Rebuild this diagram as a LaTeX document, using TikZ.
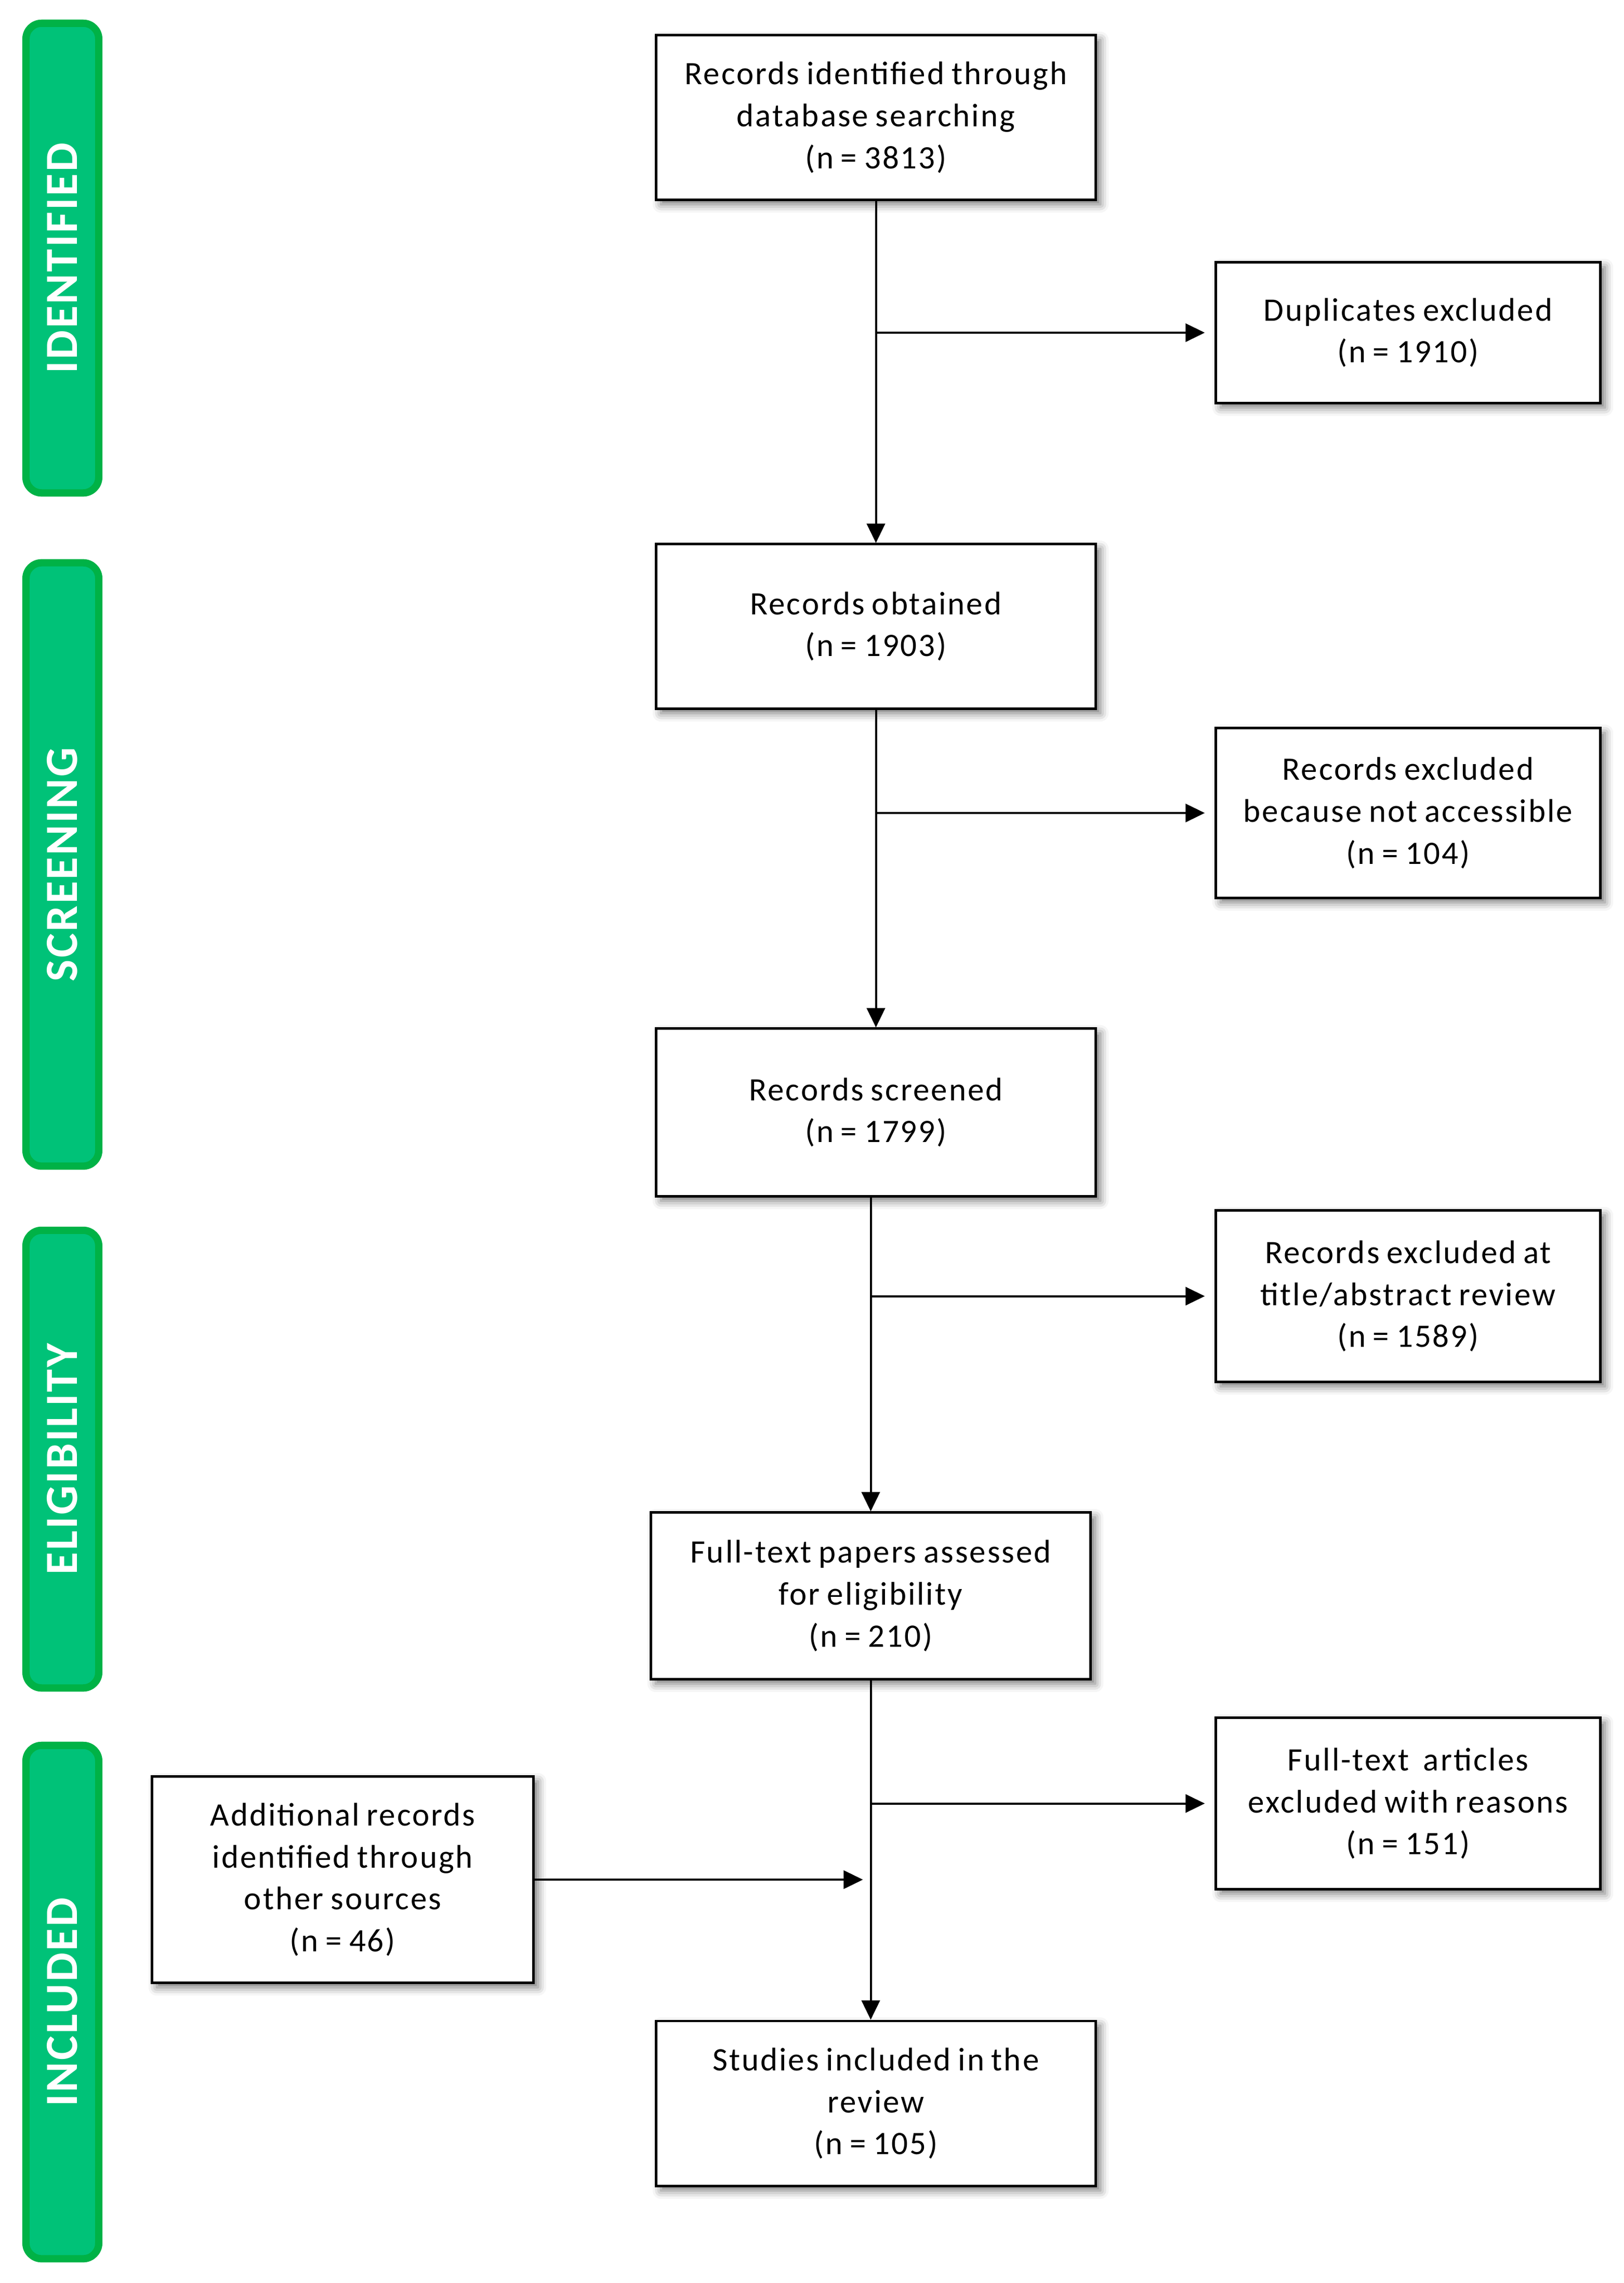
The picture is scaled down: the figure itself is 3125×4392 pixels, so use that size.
\documentclass[tikz,border=0pt]{standalone}
\usepackage{fontspec}
\setmainfont{Carlito}[LetterSpace=4.8,WordSpace=0.8]
\newfontfamily\barfont{Carlito}[LetterSpace=4]
\usetikzlibrary{arrows.meta,shadows.blur}
\definecolor{barfill}{RGB}{0,194,120}
\definecolor{barline}{RGB}{0,178,70}
\begin{document}
\begin{tikzpicture}[x=0.01cm,y=-0.01cm,
  box/.style={draw=black, line width=1.4pt, fill=white, align=center, inner sep=0pt,
    font=\fontsize{17.9pt}{23pt}\selectfont,
    blur shadow={shadow xshift=0.09cm, shadow yshift=-0.09cm, shadow blur radius=0.16cm, shadow opacity=55}},
  mainbox/.style={box, minimum width=8.45cm},
  exbox/.style={box, minimum width=7.39cm},
  phase/.style={draw=barline, fill=barfill, line width=4pt, rounded corners=0.3cm, rotate=90,
    text=white, inner sep=0pt, minimum height=1.40cm,
    font=\barfont\fontsize{25.2pt}{30pt}\bfseries\selectfont},
  arr/.style={line width=1.13pt, -{Triangle[length=0.37cm,width=0.35cm]}},
  plain/.style={line width=1.13pt}]
\useasboundingbox (0,0) rectangle (3125,4392);

% phase bars
\node[phase, minimum width=9.03cm]  (pid) at (120,496.5)  {IDENTIFIED};
\node[phase, minimum width=11.60cm] (psc) at (120,1663)   {SCREENING};
\node[phase, minimum width=8.80cm]  (pel) at (120,2807)   {ELIGIBILITY};
\node[phase, minimum width=9.87cm]  (pin) at (120,3851.5) {INCLUDED};

% boxes
\node[mainbox, minimum height=3.16cm] (b1) at (1685.5,226) {Records identified through\\database searching\\(n = 3813)};
\node[exbox, minimum height=2.70cm] (dup) at (2709.5,640) {Duplicates excluded\\(n = 1910)};
\node[mainbox, minimum height=3.16cm] (b2) at (1685.5,1205) {Records obtained\\(n = 1903)};
\node[exbox, minimum height=3.26cm] (ex2) at (2709.5,1564) {Records excluded\\because not accessible\\(n = 104)};
\node[mainbox, minimum height=3.22cm] (b3) at (1685.5,2140) {Records screened\\(n = 1799)};
\node[exbox, minimum height=3.29cm] (ex3) at (2709.5,2493.5) {Records excluded at\\title/abstract review\\(n = 1589)};
\node[mainbox, minimum height=3.20cm] (b4) at (1675.5,3070) {Full-text papers assessed\\for eligibility\\(n = 210)};
\node[exbox, minimum height=3.29cm] (ex4) at (2709.5,3469.5) {Full-text \ articles\\excluded with reasons\\(n = 151)};
\node[box, minimum width=7.33cm, minimum height=3.96cm] (add) at (659.5,3616) {Additional records\\identified through\\other sources\\(n = 46)};
\node[mainbox, minimum height=3.17cm] (b5) at (1685.5,4046.5) {Studies included in the\\review\\(n = 105)};

% spine
\draw[arr] (b1) -- (b2);
\draw[arr] (b2) -- (b3);
\draw[arr] (b3.south -| b4.north) -- (b4.north);
\draw[arr] (b4.south) -- (b4.south |- b5.north);

% side arrows
\coordinate (j1) at (b1.south |- dup.west);
\coordinate (j2) at (b2.south |- ex2.west);
\coordinate (j3) at (b4.north |- ex3.west);
\coordinate (j4) at (b4.south |- ex4.west);
\draw[arr] (j1) -- ([xshift=-0.19cm]dup.west);
\draw[arr] (j2) -- ([xshift=-0.19cm]ex2.west);
\draw[arr] (j3) -- ([xshift=-0.19cm]ex3.west);
\draw[arr] (j4) -- ([xshift=-0.19cm]ex4.west);
\draw[arr] (add.east) -- ([xshift=-0.15cm]add.east -| b4.south);
\end{tikzpicture}
\end{document}
